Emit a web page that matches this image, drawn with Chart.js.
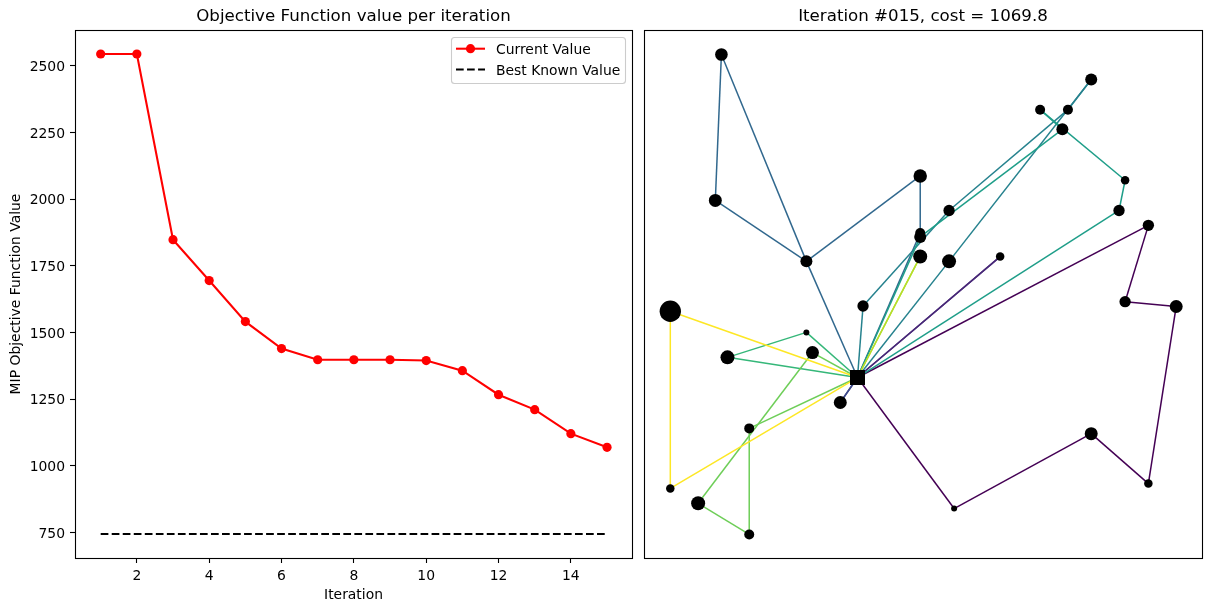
<!DOCTYPE html>
<html>
<head>
<meta charset="utf-8">
<title>MIP iterations</title>
<script src="https://cdn.jsdelivr.net/npm/chart.js@4"></script>
<style>
  html, body { margin: 0; padding: 0; background: #fff; overflow: hidden; }
  canvas { position: absolute; top: 0; display: block; }
  #progressChart { left: 0; }
  #routeChart { left: 638px; }
</style>
</head>
<body>
<canvas id="progressChart" width="638" height="611"></canvas>
<canvas id="routeChart" width="573" height="611"></canvas>
<script>
// Left panel: objective value per iteration
const iterations = [1, 2, 3, 4, 5, 6, 7, 8, 9, 10, 11, 12, 13, 14, 15];
const currentValues = [2544, 2544, 1848, 1695, 1541, 1440, 1398, 1398, 1398, 1395, 1357, 1267, 1211, 1121, 1070];
const bestKnownValues = [745, 745, 745, 745, 745, 745, 745, 745, 745, 745, 745, 745, 745, 745, 745];
const xTickValues = [2, 4, 6, 8, 10, 12, 14];
const yTickValues = [750, 1000, 1250, 1500, 1750, 2000, 2250, 2500];

// Right panel: customers on a 0-1000 grid, node 0 is the depot
const nodeX = [370, 101, 89, 269, 494, 494, 494, 494, 551, 551, 381, 832, 786, 731, 775, 899, 887, 945, 652, 0, 269, 113, 281, 336, 156, 0, 55, 156, 899, 1000, 832, 945, 561];
const nodeY = [327, 1000, 696, 569, 747, 628, 620, 579, 675, 569, 476, 948, 885, 885, 844, 738, 675, 644, 579, 465, 421, 369, 379, 275, 221, 96, 65, 0, 485, 475, 210, 106, 54];
const nodeDemand = [0, 40, 42, 36, 45, 25, 36, 49, 32, 49, 32, 36, 25, 25, 36, 18, 32, 32, 18, 114, 9, 49, 42, 42, 25, 18, 49, 25, 32, 42, 42, 18, 9];
const routes = [
  [0, 32, 30, 31, 29, 28, 17, 0],
  [0, 18, 0],
  [0, 23, 0],
  [0, 3, 1, 2, 3, 4, 5, 0],
  [0, 9, 11, 12, 8, 10, 0],
  [0, 16, 15, 13, 14, 6, 0],
  [0, 20, 21, 0],
  [0, 22, 26, 27, 24, 0],
  [0, 7, 0],
  [0, 19, 25, 0]
];
const routeColors = ['#440154', '#482878', '#3e4989', '#31688e', '#26828e', '#1f9e89', '#35b779', '#6ece58', '#b5de2b', '#fde725'];

const FONT = '"DejaVu Sans", sans-serif';
const TICK_SIZE = 13.9;

Chart.defaults.font.family = FONT;
Chart.defaults.color = '#000';
Chart.defaults.devicePixelRatio = 1;

// matplotlib style frame on all four sides
const framePlugin = {
  id: 'frame',
  afterDatasetsDraw(chart) {
    const { ctx, chartArea: a } = chart;
    ctx.save();
    ctx.strokeStyle = '#000';
    ctx.lineWidth = 1.1;
    ctx.strokeRect(a.left + 0.5, a.top + 0.5, a.right - a.left, a.bottom - a.top);
    ctx.restore();
  }
};

// legend box in the upper right corner of the axes
const legendBoxPlugin = {
  id: 'legendBox',
  afterDraw(chart) {
    const { ctx } = chart;
    const sets = chart.data.datasets;
    ctx.save();
    ctx.beginPath();
    ctx.roundRect(451.5, 37.5, 174, 46, 3);
    ctx.fillStyle = 'rgba(255,255,255,0.8)';
    ctx.fill();
    ctx.strokeStyle = '#ccc';
    ctx.lineWidth = 1.1;
    ctx.stroke();

    ctx.lineWidth = 2.08;
    ctx.strokeStyle = sets[0].borderColor;
    ctx.beginPath();
    ctx.moveTo(456, 48.7);
    ctx.lineTo(485, 48.7);
    ctx.stroke();
    ctx.fillStyle = sets[0].borderColor;
    ctx.beginPath();
    ctx.arc(470.5, 48.7, 4.6, 0, Math.PI * 2);
    ctx.fill();

    ctx.strokeStyle = sets[1].borderColor;
    ctx.setLineDash(sets[1].borderDash);
    ctx.beginPath();
    ctx.moveTo(456, 69.5);
    ctx.lineTo(485, 69.5);
    ctx.stroke();
    ctx.setLineDash([]);

    ctx.fillStyle = '#000';
    ctx.font = TICK_SIZE + 'px ' + FONT;
    ctx.textBaseline = 'middle';
    ctx.fillText(sets[0].label, 496, 50.5);
    ctx.fillText(sets[1].label, 496, 71.5);
    ctx.restore();
  }
};

function titleOptions(text) {
  return {
    display: true,
    text: text,
    fullSize: false,
    color: '#000',
    font: { size: 16.67, weight: 'normal', family: FONT },
    padding: { top: 7, bottom: 3 }
  };
}

new Chart(document.getElementById('progressChart'), {
  type: 'line',
  data: {
    datasets: [
      {
        label: 'Current Value',
        data: iterations.map((it, i) => ({ x: it, y: currentValues[i] })),
        borderColor: '#ff0000',
        backgroundColor: '#ff0000',
        borderWidth: 2.08,
        pointRadius: 4.6,
        pointBorderWidth: 0,
        tension: 0
      },
      {
        label: 'Best Known Value',
        data: iterations.map((it, i) => ({ x: it, y: bestKnownValues[i] })),
        borderColor: '#000000',
        borderWidth: 2.08,
        borderDash: [7.7, 3.33],
        pointRadius: 0,
        tension: 0
      }
    ]
  },
  plugins: [framePlugin, legendBoxPlugin],
  options: {
    responsive: false,
    animation: false,
    events: [],
    layout: { autoPadding: false, padding: { left: 0, right: 6, top: 0, bottom: 0 } },
    scales: {
      x: {
        type: 'linear',
        min: 0.29,
        max: 15.69,
        afterBuildTicks: scale => { scale.ticks = xTickValues.map(v => ({ value: v })); },
        afterFit: scale => { scale.height = 53; },
        grid: { drawOnChartArea: false, tickLength: 5, tickColor: '#000', tickWidth: 1.1 },
        border: { display: false },
        ticks: { padding: 5, maxRotation: 0, autoSkip: false, color: '#000', font: { size: TICK_SIZE } },
        title: { display: true, text: 'Iteration', color: '#000', font: { size: TICK_SIZE }, padding: { top: 0, bottom: 7 } }
      },
      y: {
        min: 655,
        max: 2634,
        afterBuildTicks: scale => { scale.ticks = yTickValues.map(v => ({ value: v })); },
        afterFit: scale => { scale.width = 75; },
        grid: { drawOnChartArea: false, tickLength: 5, tickColor: '#000', tickWidth: 1.1 },
        border: { display: false },
        ticks: { padding: 5, labelOffset: 1.5, autoSkip: false, color: '#000', font: { size: TICK_SIZE }, callback: v => String(v) },
        title: { display: true, text: 'MIP Objective Function Value', color: '#000', font: { size: TICK_SIZE }, padding: { top: 8, bottom: 0 } }
      }
    },
    plugins: {
      legend: { display: false },
      tooltip: { enabled: false },
      title: titleOptions('Objective Function value per iteration')
    }
  }
});

// one dataset per leg, so out-and-back trips overlap like separate strokes
const legDatasets = [];
routes.forEach((route, r) => {
  for (let i = 0; i < route.length - 1; i++) {
    const from = route[i];
    const to = route[i + 1];
    legDatasets.push({
      label: 'Route ' + (r + 1),
      data: [{ x: nodeX[from], y: nodeY[from] }, { x: nodeX[to], y: nodeY[to] }],
      borderColor: routeColors[r],
      borderWidth: 1.5,
      pointRadius: 0,
      showLine: true,
      tension: 0,
      order: 10 - r
    });
  }
});

// node markers come first so they sit on top of the route lines
const routeDatasets = [
  {
    label: 'Depot',
    data: [{ x: nodeX[0], y: nodeY[0] }],
    pointStyle: 'rect',
    pointRadius: 10.6,
    pointBorderWidth: 0,
    backgroundColor: '#000',
    showLine: false
  },
  {
    label: 'Customers',
    data: nodeX.slice(1).map((x, i) => ({ x: x, y: nodeY[i + 1] })),
    pointRadius: nodeDemand.slice(1).map(d => Math.sqrt(d)),
    pointBorderWidth: 0,
    backgroundColor: '#000',
    showLine: false
  }
].concat(legDatasets);

new Chart(document.getElementById('routeChart'), {
  type: 'scatter',
  data: { datasets: routeDatasets },
  plugins: [framePlugin],
  options: {
    responsive: false,
    animation: false,
    events: [],
    layout: { autoPadding: false, padding: { left: 6, right: 9, top: 0, bottom: 53 } },
    scales: {
      x: { display: false, min: -52, max: 1051 },
      y: { display: false, min: -49, max: 1051 }
    },
    plugins: {
      legend: { display: false },
      tooltip: { enabled: false },
      title: titleOptions('Iteration #015, cost = 1069.8')
    }
  }
});
</script>
</body>
</html>
